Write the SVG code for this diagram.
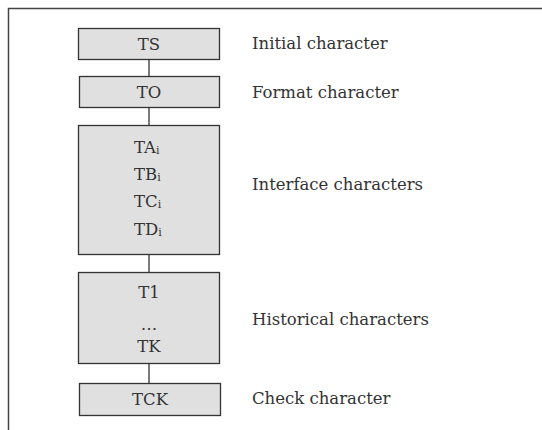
<svg xmlns="http://www.w3.org/2000/svg" width="542" height="430" viewBox="0 0 542 430">
  <style>
    .box { fill: #e0e0e0; stroke: #333; stroke-width: 1.3; }
    .link { stroke: #333; stroke-width: 1.3; fill: none; }
    .frame { stroke: #444; stroke-width: 1.5; fill: none; }
    text { font-family: "DejaVu Serif", "Liberation Serif", serif; font-size: 16.5px; fill: #333; }
    .c { text-anchor: middle; }
    .sub { font-size: 11px; }
  </style>
  <rect width="542" height="430" fill="#fff"/>
  <path class="frame" d="M8.5 430 V8.5 H542"/>

  <g id="connectors">
    <line class="link" x1="149" y1="59" x2="149" y2="76"/>
    <line class="link" x1="149" y1="108" x2="149" y2="125"/>
    <line class="link" x1="149" y1="254" x2="149" y2="272"/>
    <line class="link" x1="149" y1="364" x2="149" y2="383"/>
  </g>

  <g id="ts">
    <rect class="box" x="78.5" y="28.5" width="141" height="31"/>
    <text class="c" x="149" y="50">TS</text>
  </g>
  <g id="to">
    <rect class="box" x="79.5" y="76.5" width="140" height="31"/>
    <text class="c" x="149" y="98">TO</text>
  </g>
  <g id="interface">
    <rect class="box" x="78.5" y="125.5" width="141" height="129"/>
    <text x="134" y="153">TA<tspan class="sub" dy="1">i</tspan></text>
    <text x="134" y="180">TB<tspan class="sub" dy="1">i</tspan></text>
    <text x="134" y="207">TC<tspan class="sub" dy="1">i</tspan></text>
    <text x="134" y="235">TD<tspan class="sub" dy="1">i</tspan></text>
  </g>
  <g id="historical">
    <rect class="box" x="78.5" y="272.5" width="141" height="91"/>
    <text class="c" x="149" y="298">T1</text>
    <text class="c" x="149" y="330">…</text>
    <text class="c" x="149" y="352">TK</text>
  </g>
  <g id="tck">
    <rect class="box" x="79.5" y="383.5" width="141" height="32"/>
    <text class="c" x="150" y="405">TCK</text>
  </g>

  <g id="labels">
    <text x="252" y="49">Initial character</text>
    <text x="252" y="98">Format character</text>
    <text x="252" y="190">Interface characters</text>
    <text x="252" y="325">Historical characters</text>
    <text x="252" y="404">Check character</text>
  </g>
</svg>
